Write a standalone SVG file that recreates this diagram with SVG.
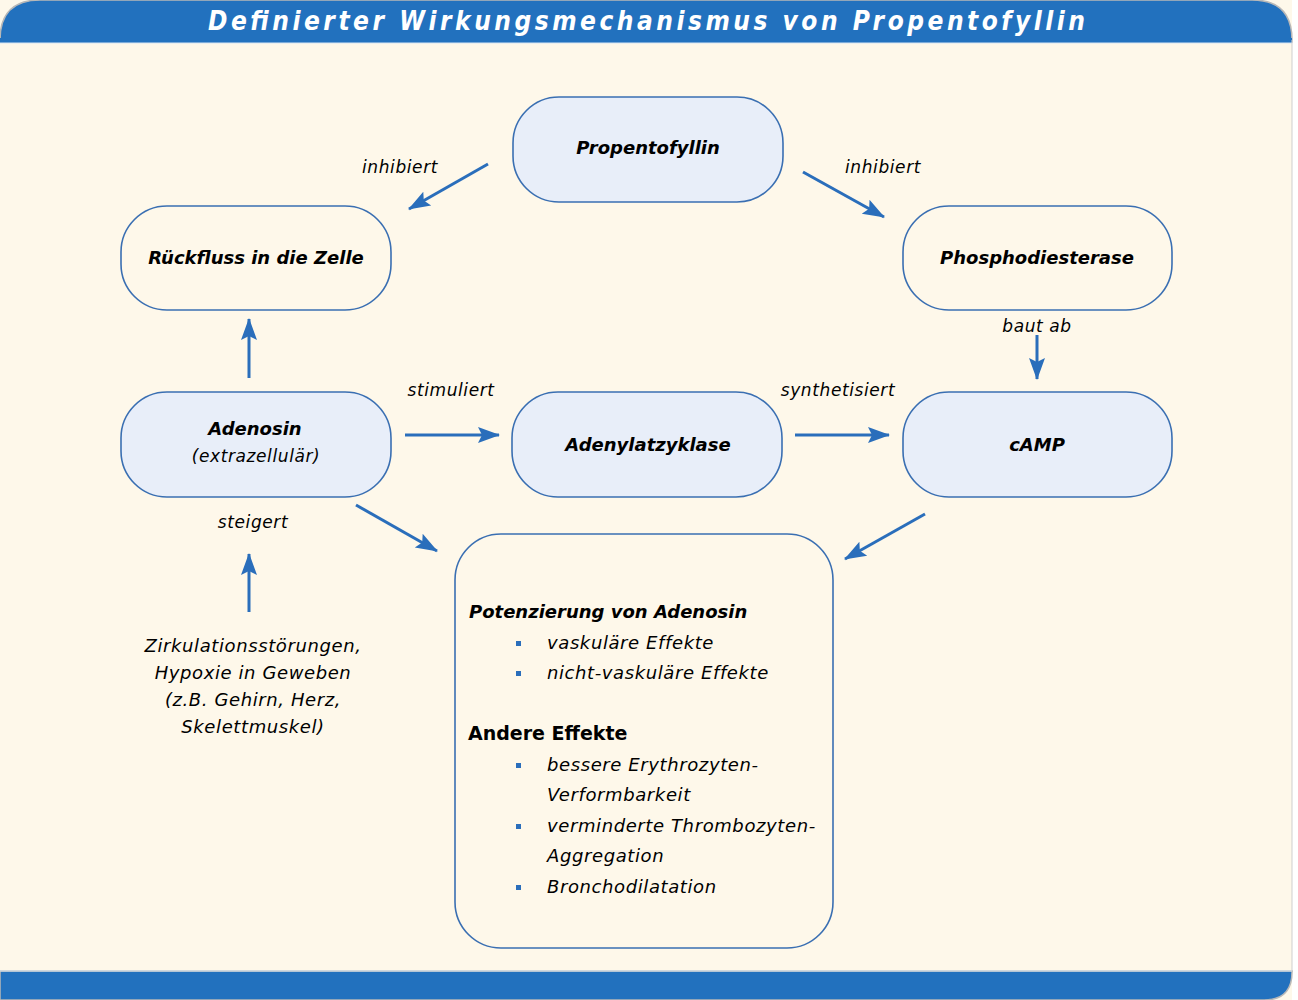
<svg xmlns="http://www.w3.org/2000/svg" width="1298" height="1000" viewBox="0 0 1298 1000">
<defs>
<style>
.box{stroke:#3a6fb2;stroke-width:1.6}
.blue{fill:#e8eef9}
.cream{fill:#fef8ea}
.t{font-family:"DejaVu Sans",sans-serif;fill:#000}
.b{font-weight:bold;font-style:italic;font-size:18px}
.i{font-style:italic;font-size:17px;letter-spacing:0.6px}
.l{font-size:18px}
.c{stroke:#2a6ebb;stroke-width:3;fill:none;marker-end:url(#ah)}
.bul{fill:#2a6ebb}
</style>
<marker id="ah" viewBox="0 0 22 18" refX="21" refY="9" markerWidth="22" markerHeight="18" markerUnits="userSpaceOnUse" orient="auto">
<path d="M0,1 L22,9 L0,17 L4,9 z" fill="#2a6ebb"/>
</marker>
</defs>
<rect width="1298" height="1000" fill="#ffffff"/>
<rect x="0" y="0" width="1292" height="1000" fill="#fef8ea"/>
<path d="M0,42 L0,40 Q0,0 40,0 L1252,0 Q1292,0 1292,40 L1292,42 Z" fill="#2271be" stroke="#b8b8b8" stroke-width="1.5"/>
<rect x="0" y="38" width="1292" height="5" fill="#2271be"/>
<line x1="0" y1="43" x2="1292" y2="43" stroke="#d6e6f4" stroke-width="1"/>
<line x1="1292" y1="40" x2="1292" y2="972" stroke="#cfcfcf" stroke-width="1"/>
<path d="M0,971 L1292,971 L1292,972 Q1292,1000 1264,1000 L0,1000 Z" fill="#2271be" stroke="#b8b8b8" stroke-width="1.5"/>
<line x1="0" y1="971" x2="1292" y2="971" stroke="#d6e6f4" stroke-width="1"/>
<text x="208" y="30" textLength="877" lengthAdjust="spacing" font-family="'DejaVu Sans Condensed','DejaVu Sans',sans-serif" font-stretch="condensed" font-weight="bold" font-style="italic" font-size="26" fill="#ffffff">Definierter Wirkungsmechanismus von Propentofyllin</text>

<g id="propentofyllin">
<rect class="box blue" x="513" y="97" width="270" height="105" rx="46"/>
<text class="t b" x="648" y="154" text-anchor="middle">Propentofyllin</text>
</g>
<g id="rueckfluss">
<rect class="box cream" x="121" y="206" width="270" height="104" rx="46"/>
<text class="t b" x="256" y="264" text-anchor="middle">Rückfluss in die Zelle</text>
</g>
<g id="phosphodiesterase">
<rect class="box cream" x="903" y="206" width="269" height="104" rx="46"/>
<text class="t b" x="1037" y="264" text-anchor="middle">Phosphodiesterase</text>
</g>
<g id="adenosin">
<rect class="box blue" x="121" y="392" width="270" height="105" rx="46"/>
<text class="t b" x="255" y="435" text-anchor="middle">Adenosin</text>
<text class="t i" x="256" y="462" text-anchor="middle">(extrazellulär)</text>
</g>
<g id="adenylatzyklase">
<rect class="box blue" x="512" y="392" width="270" height="105" rx="46"/>
<text class="t b" x="648" y="451" text-anchor="middle">Adenylatzyklase</text>
</g>
<g id="camp">
<rect class="box blue" x="903" y="392" width="269" height="105" rx="46"/>
<text class="t b" x="1037" y="451" text-anchor="middle">cAMP</text>
</g>
<g id="effekte">
<rect class="box cream" x="455" y="534" width="378" height="414" rx="46"/>
<text class="t b" x="469" y="618">Potenzierung von Adenosin</text>
<rect class="bul" x="516" y="641" width="5" height="5"/>
<text class="t i l" x="547" y="649">vaskuläre Effekte</text>
<rect class="bul" x="516" y="671" width="5" height="5"/>
<text class="t i l" x="547" y="679">nicht-vaskuläre Effekte</text>
<text class="t" x="468" y="740" font-weight="bold" font-size="19">Andere Effekte</text>
<rect class="bul" x="516" y="763" width="5" height="5"/>
<text class="t i l" x="547" y="771">bessere Erythrozyten-</text>
<text class="t i l" x="547" y="801">Verformbarkeit</text>
<rect class="bul" x="516" y="824" width="5" height="5"/>
<text class="t i l" x="547" y="832">verminderte Thrombozyten-</text>
<text class="t i l" x="547" y="862">Aggregation</text>
<rect class="bul" x="516" y="885" width="5" height="5"/>
<text class="t i l" x="547" y="893">Bronchodilatation</text>
</g>
<g id="ursache">
<text class="t i l" x="253" y="652" text-anchor="middle">Zirkulationsstörungen,</text>
<text class="t i l" x="253" y="679" text-anchor="middle">Hypoxie in Geweben</text>
<text class="t i l" x="253" y="706" text-anchor="middle">(z.B. Gehirn, Herz,</text>
<text class="t i l" x="253" y="733" text-anchor="middle">Skelettmuskel)</text>
</g>

<g id="connectors">
<line class="c" x1="488" y1="164" x2="409" y2="209"/>
<line class="c" x1="803" y1="172" x2="884" y2="217"/>
<line class="c" x1="249" y1="378" x2="249" y2="319"/>
<line class="c" x1="1037" y1="335" x2="1037" y2="379"/>
<line class="c" x1="405" y1="435" x2="499" y2="435"/>
<line class="c" x1="795" y1="435" x2="889" y2="435"/>
<line class="c" x1="356" y1="505" x2="437" y2="551"/>
<line class="c" x1="925" y1="514" x2="845" y2="559"/>
<line class="c" x1="249" y1="612" x2="249" y2="554"/>
<text class="t i" x="400" y="173" text-anchor="middle">inhibiert</text>
<text class="t i" x="883" y="173" text-anchor="middle">inhibiert</text>
<text class="t i" x="1037" y="332" text-anchor="middle">baut ab</text>
<text class="t i" x="451" y="396" text-anchor="middle">stimuliert</text>
<text class="t i" x="838" y="396" text-anchor="middle">synthetisiert</text>
<text class="t i" x="253" y="528" text-anchor="middle">steigert</text>
</g>
</svg>
